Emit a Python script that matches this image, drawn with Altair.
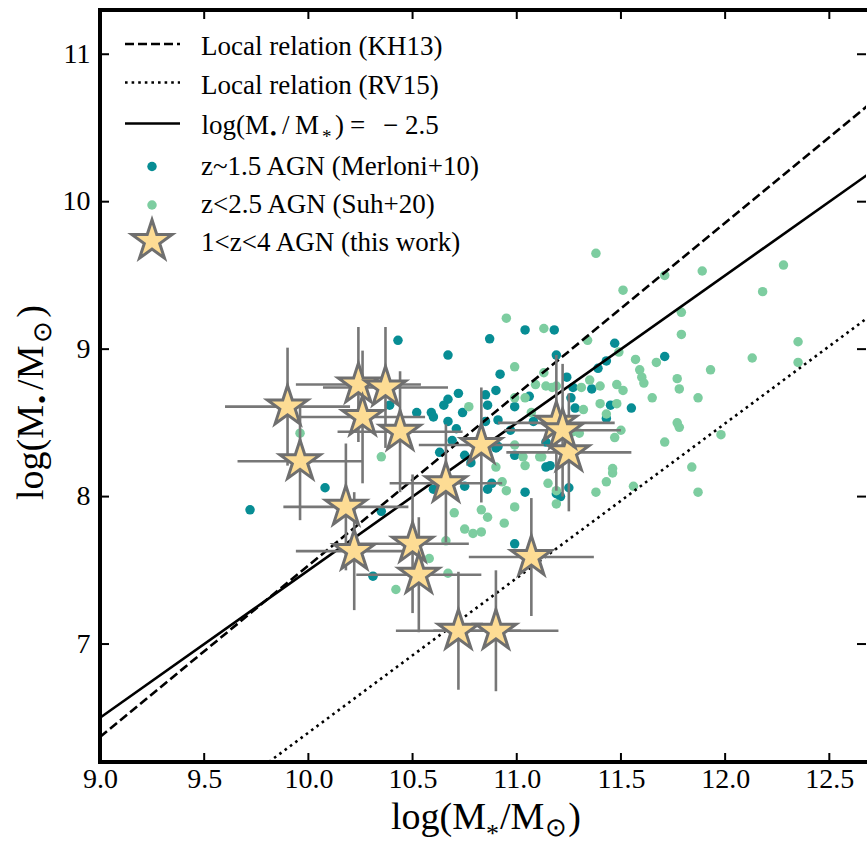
import altair as alt
import pandas as pd

# ---------------- data ----------------
# z~1.5 AGN (Merloni+10)
mer_x = [9.72, 10.08, 10.35, 10.31, 10.43, 10.67, 10.87, 11.04, 11.18, 11.19, 11.47, 11.43,
         10.92, 11.24, 11.39, 11.71, 10.72, 10.67, 10.65, 10.85, 10.90, 10.86, 10.52, 10.59,
         10.60, 10.67, 10.74, 10.39, 10.91, 10.71, 10.97, 11.08, 11.28, 11.36, 11.27, 11.43,
         11.55, 11.45, 10.63, 10.75, 10.86, 10.88, 10.91, 10.99, 11.14, 11.14, 11.16, 11.04,
         11.19, 11.21, 11.25, 10.99, 10.69, 10.75, 10.78, 10.90, 10.60, 10.99, 10.85, 11.06, 11.26]
mer_y = [7.91, 8.06, 7.90, 7.46, 9.06, 8.96, 9.07, 9.13, 9.13, 8.96, 9.04, 8.92,
         8.83, 8.81, 8.87, 8.95, 8.70, 8.66, 8.62, 8.69, 8.72, 8.62, 8.57, 8.57,
         8.54, 8.51, 8.57, 8.62, 8.52, 8.46, 8.45, 8.51, 8.60, 8.73, 8.74, 8.53,
         8.60, 8.62, 8.30, 8.07, 8.05, 8.09, 8.34, 8.28, 8.37, 8.20, 8.21, 8.03,
         8.02, 8.00, 8.06, 7.68, 8.38, 8.28, 8.23, 8.33, 8.05, 8.61, 8.51, 8.68, 8.67]

# z<2.5 AGN (Suh+20)
suh_x = [11.38, 11.51, 11.71, 11.89, 12.28, 12.18, 11.79, 11.79, 12.35, 12.13, 12.35, 11.93,
         11.77, 11.78, 11.87, 11.65, 11.77, 11.78, 11.71, 11.98, 11.84, 11.87, 11.57, 11.67,
         11.59, 11.60, 11.61, 11.49, 11.34, 11.13, 10.95, 10.99, 11.13, 11.35, 11.40, 11.48,
         11.51, 11.09, 11.14, 11.19, 11.31, 11.40, 11.48, 11.43, 11.50, 11.47, 11.32, 11.30,
         11.46, 11.43, 11.38, 11.56, 11.15, 11.19, 11.12, 10.99, 11.03, 11.04, 10.90, 10.93,
         10.95, 10.99, 10.83, 10.86, 10.94, 10.70, 10.75, 10.79, 10.83, 10.66, 10.58, 10.67,
         10.42, 10.35, 9.96, 10.77, 10.99, 11.04, 11.19, 11.07, 11.27, 11.17, 11.46, 11.11]
suh_y = [9.65, 9.40, 9.50, 9.53, 9.57, 9.39, 9.25, 9.10, 9.05, 8.94, 8.91, 8.86,
         8.80, 8.73, 8.67, 8.67, 8.50, 8.47, 8.37, 8.42, 8.20, 8.03, 8.93, 8.91,
         8.86, 8.81, 8.77, 8.98, 9.06, 9.14, 9.21, 8.88, 8.84, 8.79, 8.75, 8.76,
         8.72, 8.76, 8.75, 8.75, 8.74, 8.63, 8.63, 8.56, 8.45, 8.40, 8.59, 8.43,
         8.16, 8.10, 8.03, 8.07, 8.09, 7.95, 8.27, 8.35, 8.27, 8.21, 8.20, 8.10,
         8.04, 7.93, 7.91, 7.86, 7.82, 7.89, 7.78, 7.75, 7.76, 7.70, 7.58, 7.48,
         7.37, 8.27, 8.43, 8.61, 8.67, 8.67, 8.04, 8.57, 8.44, 8.74, 8.19, 8.27]

# 1<z<4 AGN (this work)
star_x = [9.90, 9.96, 10.18, 10.22, 10.50, 10.53, 10.72, 10.90, 11.07, 10.66, 10.83, 11.19,
          11.25, 10.24, 10.37, 10.26, 10.44, 11.22]
star_y = [8.61, 8.24, 7.93, 7.63, 7.68, 7.47, 7.09, 7.09, 7.59, 8.09, 8.35, 8.50,
          8.30, 8.76, 8.74, 8.54, 8.44, 8.45]
star_xerr = [0.30, 0.30, 0.30, 0.28, 0.27, 0.30, 0.30, 0.30, 0.30, 0.27, 0.30, 0.28,
             0.30, 0.30, 0.30, 0.30, 0.30, 0.28]
star_yerr = [0.40, 0.40, 0.43, 0.40, 0.47, 0.39, 0.40, 0.41, 0.40, 0.40, 0.39, 0.46,
             0.40, 0.39, 0.41, 0.45, 0.41, 0.45]

# relations (end points)
kh_x, kh_y = [9.0, 12.7], [6.37, 10.67]
rv_x, rv_y = [9.81, 12.7], [6.20, 9.23]
ratio_x, ratio_y = [9.0, 12.7], [6.50, 10.20]

x_ticks = [9.0, 9.5, 10.0, 10.5, 11.0, 11.5, 12.0, 12.5]
y_ticks = [7, 8, 9, 10, 11]

legend_labels = ["Local relation (KH13)", "Local relation (RV15)",
                 "z~1.5 AGN (Merloni+10)", "z<2.5 AGN (Suh+20)", "1<z<4 AGN (this work)"]

# ---------------- style ----------------
W, H = 766, 752
FONT = "Liberation Serif"
TEAL = "#078d94"
GREEN = "#7dcda0"
STAR_FILL = "#fddc94"
STAR_EDGE = "#6f6f6f"
ERR = "#777777"
STAR = ("M0,-1L0.2245,-0.309L0.951,-0.309L0.363,0.118L0.588,0.809L0,0.382"
        "L-0.588,0.809L-0.363,0.118L-0.951,-0.309L-0.2245,-0.309Z")
STAR_SIZE = 1800
DOT = 90
LBL = 28

xs = alt.Scale(domain=[9.0, 12.676], nice=False, zero=False)
ys = alt.Scale(domain=[6.2, 11.3], nice=False, zero=False)
XAX = alt.Axis(values=x_ticks, format=".1f", ticks=False, tickSize=0, domain=False, grid=False,
               title=None, labelFont=FONT, labelFontSize=LBL, labelColor="black", labelPadding=3,
               labelFlush=False, labelOverlap=False)
YAX = alt.Axis(values=y_ticks, format="d", ticks=False, tickSize=0, domain=False, grid=False,
               title=None, labelFont=FONT, labelFontSize=LBL, labelColor="black", labelPadding=10,
               labelFlush=False, labelOverlap=False)


def X(f):
    return alt.X(f, scale=xs, axis=XAX)


def Y(f):
    return alt.Y(f, scale=ys, axis=YAX)


one = pd.DataFrame({"a": [0]})
layers = []

mer = pd.DataFrame({"x": mer_x, "y": mer_y})
layers.append(alt.Chart(mer).mark_circle(size=DOT, color=TEAL, opacity=1).encode(
    x=X("x:Q"), y=Y("y:Q")))

suh = pd.DataFrame({"x": suh_x, "y": suh_y})
layers.append(alt.Chart(suh).mark_circle(size=DOT, color=GREEN, opacity=1).encode(
    x=X("x:Q"), y=Y("y:Q")))


def rel(xv, yv, dash):
    d = pd.DataFrame({"x": xv, "y": yv})
    kw = dict(color="black", strokeWidth=2.6, clip=True)
    if dash:
        kw["strokeDash"] = dash
    return alt.Chart(d).mark_line(**kw).encode(x=X("x:Q"), y=Y("y:Q"))


layers.append(rel(kh_x, kh_y, [9, 4]))
layers.append(rel(rv_x, rv_y, [2.6, 4]))
layers.append(rel(ratio_x, ratio_y, None))

stars = pd.DataFrame({"x": star_x, "y": star_y, "xe": star_xerr, "ye": star_yerr})
err_base = alt.Chart(stars).transform_calculate(
    xlo="datum.x - datum.xe", xhi="datum.x + datum.xe",
    ylo="datum.y - datum.ye", yhi="datum.y + datum.ye")
layers.append(err_base.mark_rule(color=ERR, strokeWidth=2.6, clip=True).encode(
    x=X("xlo:Q"), x2="xhi:Q", y=Y("y:Q")))
layers.append(err_base.mark_rule(color=ERR, strokeWidth=2.6, clip=True).encode(
    y=Y("ylo:Q"), y2="yhi:Q", x=X("x:Q")))
layers.append(alt.Chart(stars).mark_point(
    shape=STAR, size=STAR_SIZE, filled=True, fill=STAR_FILL, fillOpacity=1,
    stroke=STAR_EDGE, strokeWidth=3, opacity=1).encode(x=X("x:Q"), y=Y("y:Q")))

# ---------------- frame: spines and inward ticks ----------------
for spec in [dict(x=alt.value(0), x2=alt.value(W), y=alt.value(0)),
             dict(x=alt.value(0), x2=alt.value(W), y=alt.value(H)),
             dict(x=alt.value(0), y=alt.value(0), y2=alt.value(H))]:
    layers.append(alt.Chart(one).mark_rule(color="black", strokeWidth=4, strokeCap="square").encode(**spec))

xt = pd.DataFrame({"t": x_ticks})
yt = pd.DataFrame({"t": y_ticks})
TL = 9
layers.append(alt.Chart(xt).mark_rule(color="black", strokeWidth=2).encode(
    x=X("t:Q"), y=alt.value(H), y2=alt.value(H - TL)))
layers.append(alt.Chart(xt).mark_rule(color="black", strokeWidth=2).encode(
    x=X("t:Q"), y=alt.value(0), y2=alt.value(TL)))
layers.append(alt.Chart(yt).mark_rule(color="black", strokeWidth=2).encode(
    y=Y("t:Q"), x=alt.value(0), x2=alt.value(TL)))
layers.append(alt.Chart(yt).mark_rule(color="black", strokeWidth=2).encode(
    y=Y("t:Q"), x=alt.value(W), x2=alt.value(W - TL)))


def txt(s, x, y, size, angle=0):
    kw = dict(text=s, font=FONT, fontSize=size, align="left", baseline="alphabetic", color="black")
    if angle:
        kw["angle"] = angle
    return alt.Chart(one).mark_text(**kw).encode(x=alt.value(x), y=alt.value(y))


# ---------------- legend ----------------
LX0, LX1 = 25, 80
layers.append(alt.Chart(one).mark_rule(color="black", strokeWidth=2.6, strokeDash=[9, 4]).encode(
    x=alt.value(LX0), x2=alt.value(LX1), y=alt.value(34)))
layers.append(alt.Chart(one).mark_rule(color="black", strokeWidth=2.6, strokeDash=[2.6, 4]).encode(
    x=alt.value(LX0), x2=alt.value(LX1), y=alt.value(72.5)))
layers.append(alt.Chart(one).mark_rule(color="black", strokeWidth=2.6).encode(
    x=alt.value(LX0), x2=alt.value(LX1), y=alt.value(113.5)))
layers.append(alt.Chart(one).mark_circle(size=DOT, color=TEAL, opacity=1).encode(
    x=alt.value(52), y=alt.value(156.5)))
layers.append(alt.Chart(one).mark_circle(size=DOT, color=GREEN, opacity=1).encode(
    x=alt.value(52), y=alt.value(195)))
layers.append(alt.Chart(one).mark_point(
    shape=STAR, size=STAR_SIZE, filled=True, fill=STAR_FILL, fillOpacity=1,
    stroke=STAR_EDGE, strokeWidth=3, opacity=1).encode(x=alt.value(52), y=alt.value(231)))

TX = 101
layers.append(txt(legend_labels[0], TX, 44.5, 27))
layers.append(txt(legend_labels[1], TX, 83.5, 27))
layers.append(txt(legend_labels[2], TX, 164.5, 27))
layers.append(txt(legend_labels[3], TX, 203, 27))
layers.append(txt(legend_labels[4], TX, 241, 27))

# log(M_bullet / M_*) = -2.5
BY = 123.5
layers.append(txt("log(M", 101.5, BY, 27))
layers.append(txt("\u2022", 170, BY + 6, 19))
layers.append(txt("/", 182, BY, 27))
layers.append(txt("M", 195, BY, 27))
layers.append(txt("*", 222, BY + 9, 19))
layers.append(txt(")", 235, BY, 27))
layers.append(txt("=", 250, BY, 27))
layers.append(txt("\u2212", 283, BY, 27))
layers.append(txt("2.5", 305, BY, 27))

# ---------------- axis titles ----------------
TS, SS = 38, 26
# x title
XB = 819
x0 = 291
layers.append(txt("log(M", x0, XB, TS))
x1 = x0 + 2.5 * TS
layers.append(txt("*", x1, XB + 13, SS))
x2 = x1 + 0.5 * SS + 1
layers.append(txt("/M", x2, XB, TS))
x3 = x2 + 1.167 * TS + 1
layers.append(txt("\u2299", x3, XB + 7, SS))
x4 = x3 + 0.84 * SS + 1
layers.append(txt(")", x4, XB, TS))

# y title (rotated)
YBX = -57
y0 = 490
layers.append(txt("log(M", YBX, y0, TS, 270))
y1 = y0 - 2.5 * TS - 1
layers.append(txt("\u2022", YBX + 8, y1, SS, 270))
y2 = y1 - 0.35 * SS - 5
layers.append(txt("/M", YBX, y2, TS, 270))
y3 = y2 - 1.167 * TS - 3
layers.append(txt("\u2299", YBX + 8, y3, SS, 270))
y4 = y3 - 0.84 * SS - 3
layers.append(txt(")", YBX, y4, TS, 270))

chart = alt.layer(*layers).properties(
    width=W, height=H,
    padding={"left": 100, "top": 10, "right": 1, "bottom": 86},
    autosize=alt.AutoSizeParams(type="none"),
).configure_view(stroke=None)

chart.save("out.html", embed_options={"renderer": "svg", "actions": False})
